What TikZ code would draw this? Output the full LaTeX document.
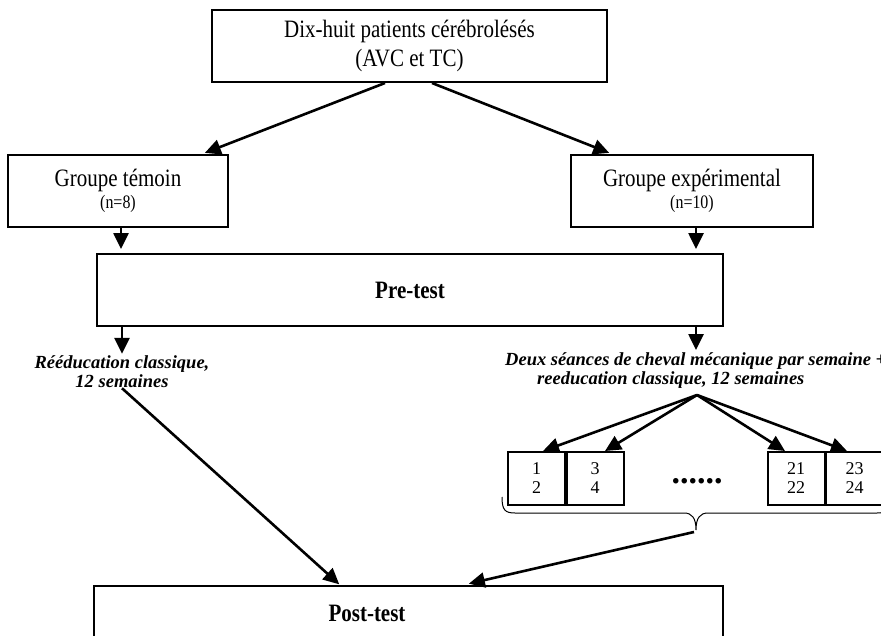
\documentclass[tikz,border=0pt]{standalone}
\usepackage{fontspec}
\setmainfont{Liberation Serif}
\newfontfamily\narrowserif{Liberation Serif}[FakeStretch=0.84]
\usetikzlibrary{arrows.meta, positioning}

\begin{document}
\begin{tikzpicture}[
  x=1pt, y=-1pt,
  box/.style={rectangle, draw=black, line width=2pt, align=center, inner sep=0pt,
              minimum height=72pt, font=\narrowserif\fontsize{25}{29}\selectfont},
  titlebox/.style={box, font=\narrowserif\bfseries\fontsize{25}{29}\selectfont},
  session/.style={rectangle, draw=black, line width=2pt, align=center, inner sep=0pt,
              minimum width=57pt, minimum height=53pt, font=\fontsize{18}{19}\selectfont},
  lbl/.style={font=\bfseries\itshape\fontsize{18.5}{19}\selectfont, inner sep=0pt},
  trans/.style={-{Triangle[length=16pt, width=15pt]}, line width=2.6pt},
  bracket/.style={line width=1pt}
]
  \useasboundingbox (0,0) rectangle (881,635);

  \node[box, minimum width=395pt] (patients) at (409.5,46) {Dix-huit patients cérébrolésés\\(AVC et TC)};
  \node[box, minimum width=220pt] (temoin) at (118,191)
       {Groupe témoin\\[-7pt]{\fontsize{19}{21}\selectfont (n=8)}};
  \node[box, minimum width=242pt] (experimental) at (692,191)
       {Groupe expérimental\\[-7pt]{\fontsize{19}{21}\selectfont (n=10)}};
  \node[titlebox, minimum width=626pt] (pretest) at (410,290) {Pre-test};

  \node[lbl, align=center] (reedu) at (122,372) {Rééducation classique,\\12 semaines};
  \node[lbl, align=left, anchor=north west] (seances) at (505,352)
       {Deux séances de cheval mécanique par semaine +\\\hspace*{32pt}reeducation classique, 12 semaines};

  \node[session] (s1) at (536.5,478.5) {1\\2};
  \node[session] (s2) at (595,478.5) {3\\4};
  \node[font=\bfseries\fontsize{34}{36}\selectfont, inner sep=0pt] (dots) at (697,481) {......};
  \node[session] (s21) at (796,478.5) {21\\22};
  \node[session] (s23) at (854.5,478.5) {23\\24};

  \node[box, minimum width=629pt, anchor=north] (post) at (408.5,585) {};
  \node[font=\narrowserif\bfseries\fontsize{25}{29}\selectfont, inner sep=0pt] (posttext) at (367,613) {Post-test};

  % accolade sous les seances
  \draw[bracket] (502,497) .. controls (502,510) and (505,513) .. (515,513) -- (684,513)
        .. controls (692,513) and (696,518) .. (696,530)
        .. controls (696,518) and (700,513) .. (708,513) -- (877,513)
        .. controls (887,513) and (890,510) .. (890,497);
  \coordinate (bracetip) at (694,532);
  \coordinate (fan) at (697,395);

  \draw[trans, shorten >=3pt] ([xshift=-24.5pt]patients.south) -- ([xshift=84pt]temoin.north);
  \draw[trans, shorten >=3pt] ([xshift=22.5pt]patients.south) -- ([xshift=-80pt]experimental.north);
  \draw[trans, shorten >=4pt] ([xshift=3pt]temoin.south) -- ([xshift=3pt]temoin.south |- pretest.north);
  \draw[trans, shorten >=4pt] ([xshift=4pt]experimental.south) -- ([xshift=4pt]experimental.south |- pretest.north);

  \draw[trans, shorten >=2pt] (pretest.south -| reedu.north) -- (reedu.north);
  \draw[trans, shorten >=2pt] ([xshift=4pt]experimental.south |- pretest.south)
        -- ([xshift=4pt]experimental.south |- seances.north);

  \foreach \s/\dx in {s1/6.5, s2/10, s21/-11, s23/-7.5}
    \draw[trans] (fan) -- ([xshift=\dx pt]\s.north);

  \draw[trans, shorten >=1pt] (reedu.south) -- ([xshift=-68.5pt]post.north);
  \draw[trans, shorten >=6pt] (bracetip) -- ([xshift=54.5pt]post.north);
\end{tikzpicture}
\end{document}
